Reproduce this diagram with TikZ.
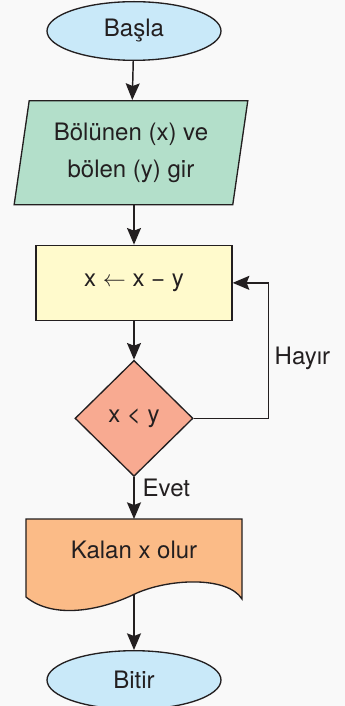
\documentclass[tikz,border=0pt]{standalone}
\usepackage{fontspec}
\setmainfont{TeX Gyre Heros}
\usepackage{tikz}
\usetikzlibrary{positioning, arrows.meta, shapes, shapes.geometric, calc}

\definecolor{pagebg}{HTML}{F9F9F9}
\definecolor{ink}{HTML}{231F20}
\definecolor{termfill}{HTML}{C9E9F9}
\definecolor{iofill}{HTML}{B3DFCA}
\definecolor{procfill}{HTML}{FFFACC}
\definecolor{decfill}{HTML}{F8AA91}
\definecolor{docfill}{HTML}{FBBB87}

\begin{document}
\begin{tikzpicture}[font=\fontsize{18}{27.5}\selectfont, text=ink]
        \tikzstyle{term} = [ellipse, draw=ink, line width=1pt, fill=termfill, minimum width=130.5pt, minimum height=44pt]
        \tikzstyle{io} = [trapezium, trapezium left angle=80, trapezium right angle=100, trapezium stretches=true, draw=ink, line width=1pt, fill=iofill, minimum width=175.5pt, minimum height=78pt, align=center]
        \tikzstyle{proc} = [rectangle, draw=ink, line width=1pt, fill=procfill, minimum width=147pt, minimum height=56.25pt]
        \tikzstyle{dec} = [diamond, aspect=1, draw=ink, line width=1pt, fill=decfill, minimum width=88.5pt, minimum height=87pt, inner sep=0pt]
        \tikzstyle{docbox} = [rectangle, minimum width=162pt, minimum height=46.5pt, outer sep=0pt]
        \tikzstyle{docshape} = [draw=ink, line width=1pt, fill=docfill]
        \tikzstyle{arrow} = [draw=ink, line width=1.1pt, -{Stealth[length=12.5pt, width=10.5pt, inset=2pt]}]

        \path[use as bounding box, fill=pagebg] (-100.5pt,23.25pt) rectangle (158.25pt,-506.25pt);

        \node [term] (start) at (0,0) {Başla};
        \node [io, below=29.25pt of start, xshift=-2.25pt] (input) {Bölünen (x) ve\\bölen (y) gir};
        \node [proc, below=29.5pt of input.south, anchor=north, xshift=2.25pt] (calc) {x $\leftarrow$ x − y};
        \node [dec, below=29pt of calc] (check) {x < y};
        \node [docbox, below=31.5pt of check] (doc) {};
        \begin{scope}[shift={(doc.south)}, x=1pt, y=1pt]
            \draw [docshape] (-81,46.5) -- (81,46.5) -- (81,-13.5) .. controls (70,4) and (25,2) .. (0,-10) .. controls (-25,-22) and (-60,-29) .. (-81,-12) -- cycle;
            \coordinate (docwave) at (0,-10);
        \end{scope}
        \node (doctxt) at (doc) {Kalan x olur};
        \node [term, below=51.75pt of doc] (stop) {Bitir};

        \draw [arrow] (start) -- (input);
        \draw [arrow] (input.south -| calc.north) -- (calc);
        \draw [arrow] (calc) -- (check);
        \draw [arrow] (check.south) -- (doc.north) node [pos=0.25, right, inner sep=6pt] {Evet};
        \draw [arrow] (check.east) -- ++(56.25pt,0) |- (calc.east) node [pos=0.22, right, inner sep=4pt] {Hayır};
        \draw [arrow] (docwave) -- (stop);
    \end{tikzpicture}
\end{document}
